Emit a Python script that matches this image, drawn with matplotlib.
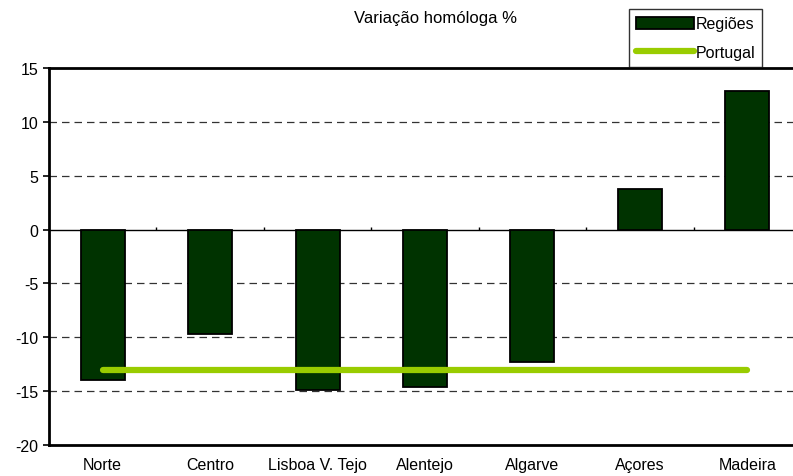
import matplotlib
matplotlib.use("Agg")
import matplotlib.pyplot as plt
from matplotlib.lines import Line2D
from matplotlib.patches import Patch

plt.rcParams['font.family'] = ['Liberation Sans', 'DejaVu Sans']
plt.rcParams['axes.unicode_minus'] = False

# dados
regioes = ["Norte", "Centro", "Lisboa V. Tejo", "Alentejo", "Algarve", "Açores", "Madeira"]
variacao = [-14.0, -9.7, -14.9, -14.6, -12.3, 3.8, 12.9]
portugal = [-13.0] * len(regioes)

fig = plt.figure(figsize=(7.93, 4.77), dpi=100)
ax = fig.add_axes([49 / 793, 1 - 446 / 477, 752 / 793, 377 / 477])

x = list(range(len(regioes)))
ax.bar(x, variacao, width=0.41, color="#003300", edgecolor="black", linewidth=1.3, zorder=3)
ax.plot(x, portugal, color="#99cc00", linewidth=4.5, solid_capstyle="round", zorder=4)

ax.set_xlim(-0.5, 6.5)
ax.set_ylim(-20, 15)
ax.set_yticks(range(-20, 16, 5))
ax.set_xticks(x)
ax.set_xticklabels(regioes, fontsize=11.5)
ax.tick_params(axis="x", length=0, pad=9)
ax.tick_params(axis="y", labelsize=11.5, direction="out", length=4, width=1.2)

# grelha tracejada
for v in [-15, -10, -5, 5, 10]:
    ax.axhline(v, color="#333333", linestyle=(0, (6, 4)), linewidth=0.9, zorder=1)
# eixo das categorias no zero, com marcas entre categorias
ax.axhline(0, color="black", linewidth=1.0, zorder=2)
ax.vlines([i + 0.5 for i in x[:-1]], 0, 0.28, color="black", linewidth=1.0, zorder=2)

for s in ax.spines.values():
    s.set_linewidth(2.0)

fig.text(435 / 793, 1 - 18 / 477, "Variação homóloga %", ha="center", va="center", fontsize=12)

handles = [Patch(facecolor="#003300", edgecolor="black", linewidth=1.3),
           Line2D([0], [0], color="#99cc00", linewidth=4.5, solid_capstyle="round")]
leg = fig.legend(handles, ["Regiões", "Portugal"], loc="upper left",
                 bbox_to_anchor=(629 / 793, 1 - 10 / 477), fontsize=11.5,
                 frameon=True, fancybox=False, handlelength=3.6, handleheight=0.8,
                 handletextpad=0.1, borderpad=0.45, labelspacing=0.85,
                 borderaxespad=0)
leg.get_frame().set_edgecolor("black")
leg.get_frame().set_linewidth(1.0)

fig.savefig("out.png", dpi=100)
